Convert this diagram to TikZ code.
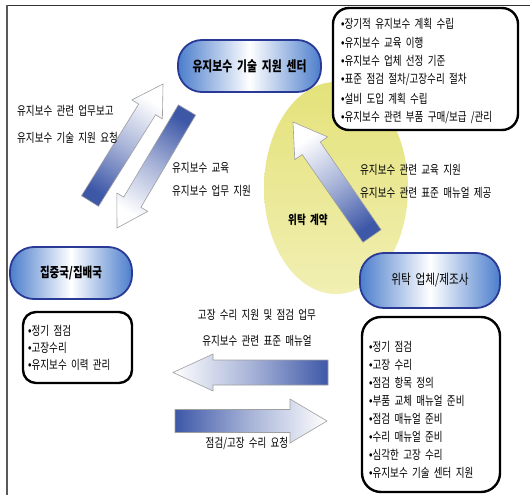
\documentclass[tikz,border=0pt]{standalone}
\usepackage{fontspec}
\setmainfont[FakeStretch=0.77,WordSpace=2]{Noto Sans CJK KR}
\newfontfamily\latinf[FakeStretch=0.8]{Liberation Sans}
\usetikzlibrary{calc}
\definecolor{arrowblue}{RGB}{62,88,168}
\definecolor{pillblue}{RGB}{76,126,204}
\definecolor{pillborder}{RGB}{40,58,150}
\definecolor{elltop}{RGB}{228,226,122}
\definecolor{ellbot}{RGB}{241,239,178}
\newcommand\bul{{\latinf •}}
\newcommand\gradarrow[6]{%
  \coordinate (gb) at ($(#2)!#5!(#1)$);
  \shadedraw[arrowline, top color=white, bottom color=arrowblue, middle color=arrowblue!45!white, shading angle=#6]
    ($(#1)!#3!90:(#2)$) -- ($(gb)!#3!-90:(#1)$) -- ($(gb)!#4!-90:(#1)$) -- (#2)
    -- ($(gb)!#4!90:(#1)$) -- ($(gb)!#3!90:(#1)$) -- ($(#1)!#3!-90:(#2)$) -- cycle;
}
\tikzset{
  pill/.style={rectangle, rounded corners=24pt, draw=pillborder, line width=1.8pt,
    left color=pillblue, right color=pillblue, middle color=white, inner sep=0pt},
  listbox/.style={rectangle, draw=black, line width=2.4pt, fill=white, inner sep=0pt},
  lbl/.style={inner sep=0pt, font=\fontsize{12.4}{14}\selectfont},
  arrowline/.style={draw=gray!75, line width=0.6pt},
}
\begin{document}
\begin{tikzpicture}[x=1pt,y=-1pt]
\useasboundingbox (0,0) rectangle (530,495);
\fill[white] (0,0) rectangle (530,495);
% frame
\draw[black!80, line width=1.6pt] (6,5.5) -- (530,5.5);
\draw[gray!70!black, line width=2.2pt] (7,5) -- (7,495);
% ellipse
\shade[top color=elltop, bottom color=ellbot] (336,188) ellipse [x radius=72pt, y radius=106pt];
% list boxes
\node[listbox, rounded corners=16pt, minimum width=185pt, minimum height=122pt] (trbox) at (425.5,69) {};
\node[listbox, rounded corners=19pt, minimum width=138pt, minimum height=175pt] (rbox) at (431,404.5) {};
\node[listbox, rounded corners=13pt, minimum width=109pt, minimum height=71pt] (lbox) at (77.5,347.5) {};
% pills
\node[pill, minimum width=143pt, minimum height=52pt, font=\fontsize{14}{16}\selectfont\bfseries] (center) at (249.5,66) {유지보수 기술 지원 센터};
\node[pill, minimum width=122pt, minimum height=52pt, font=\fontsize{13.6}{16}\selectfont\bfseries] (local) at (71,273) {집중국/집배국};
\node[pill, minimum width=140pt, minimum height=55pt, font=\fontsize{13.8}{16}\selectfont] (vendor) at (430,280.5) {위탁 업체/제조사};
% arrows
\coordinate (a1t) at (90,201);  \coordinate (a1h) at (163,84);
\coordinate (a2t) at (187,110); \coordinate (a2h) at (117,228);
\coordinate (a3t) at (372,236); \coordinate (a3h) at (293,122);
\coordinate (a4t) at (328,372.5); \coordinate (a4h) at (173,372.5);
\coordinate (a5t) at (175,421); \coordinate (a5h) at (327,421);
\gradarrow{a1t}{a1h}{10pt}{18pt}{30pt}{-32}
\gradarrow{a2t}{a2h}{10pt}{18pt}{30pt}{149}
\gradarrow{a3t}{a3h}{11pt}{20pt}{32pt}{35}
\gradarrow{a4t}{a4h}{12.5pt}{18.5pt}{40pt}{90}
\gradarrow{a5t}{a5h}{11.5pt}{22pt}{37pt}{-90}
% list texts
\foreach \t [count=\i from 0] in {장기적 유지보수 계획 수립, 유지보수 교육 이행, 유지보수 업체 선정 기준, 표준 점검 절차/고장수리 절차, 설비 도입 계획 수립, 유지보수 관련 부품 구매/보급 /관리}
  \node[lbl, anchor=west] (tr\i) at (341,{24+18.6*\i}) {\bul\t};
\foreach \t [count=\i from 0] in {정기 점검, 고장 수리, 점검 항목 정의, 부품 교체 매뉴얼 준비, 점검 매뉴얼 준비, 수리 매뉴얼 준비, 심각한 고장 수리, 유지보수 기술 센터 지원}
  \node[lbl, anchor=west] (rl\i) at (369,{347+18*\i}) {\bul\t};
\foreach \t [count=\i from 0] in {정기 점검, 고장수리, 유지보수 이력 관리}
  \node[lbl, anchor=west] (ll\i) at (28,{331+17*\i}) {\bul\t};
% labels
\node[lbl, anchor=west] (t1) at (17,111) {유지보수 관련 업무보고};
\node[lbl, anchor=west] (t2) at (17,138) {유지보수 기술 지원 요청};
\node[lbl, anchor=west] (t3) at (172,168) {유지보수 교육};
\node[lbl, anchor=west] (t4) at (172,191) {유지보수 업무 지원};
\node[lbl, font=\fontsize{12.4}{14}\selectfont\bfseries] (t5) at (308,220) {위탁 계약};
\node[lbl, anchor=west] (t6) at (360,170) {유지보수 관련 교육 지원};
\node[lbl, anchor=west] (t7) at (360,193) {유지보수 관련 표준 매뉴얼 제공};
\node[lbl] (t8) at (257,315) {고장 수리 지원 및 점검 업무};
\node[lbl] (t9) at (257,341) {유지보수 관련 표준 매뉴얼};
\node[lbl] (t10) at (247,443) {점검/고장 수리 요청};
\end{tikzpicture}
\end{document}
